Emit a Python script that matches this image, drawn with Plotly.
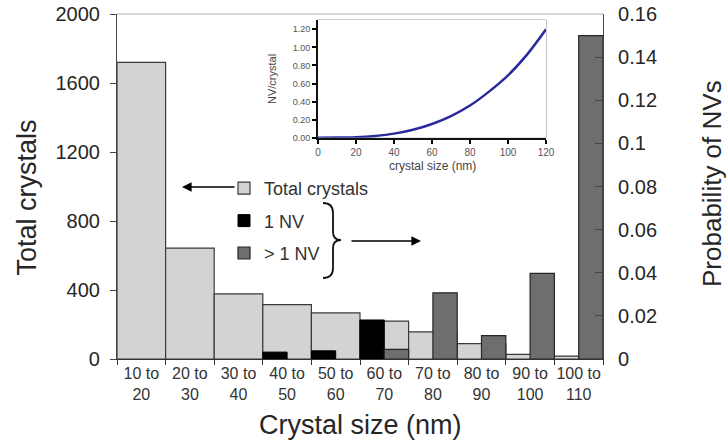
import plotly.graph_objects as go

# ---------------- data ----------------
categories = ["10 to 20", "20 to 30", "30 to 40", "40 to 50", "50 to 60",
              "60 to 70", "70 to 80", "80 to 90", "90 to 100", "100 to 110"]
tick_labels = ["10 to<br>20", "20 to<br>30", "30 to<br>40", "40 to<br>50", "50 to<br>60",
               "60 to<br>70", "70 to<br>80", "80 to<br>90", "90 to<br>100", "100 to<br>110"]
total_crystals = [1720, 643, 378, 315, 267, 220, 157, 89, 27, 17]
prob_one_nv = [None, None, None, 0.0032, 0.0038, 0.0181, None, None, None, None]
prob_multi_nv = [None, None, None, None, None, 0.0045, 0.0307, 0.0108, 0.0397, 0.150]

inset_size = [0, 10, 20, 30, 40, 50, 60, 70, 80, 90, 100, 110, 120]
inset_nv_per_crystal = [0.0, 0.001, 0.006, 0.02, 0.045, 0.088, 0.152, 0.24, 0.356, 0.51, 0.69, 0.92, 1.20]

left_ticks = [0, 400, 800, 1200, 1600, 2000]
right_ticks = [0, 0.02, 0.04, 0.06, 0.08, 0.1, 0.12, 0.14, 0.16]
right_tick_text = ["0", "0.02", "0.04", "0.06", "0.08", "0.1", "0.12", "0.14", "0.16"]
inset_x_ticks = [0, 20, 40, 60, 80, 100, 120]
inset_y_ticks = [0, 0.2, 0.4, 0.6, 0.8, 1.0, 1.2]

# ---------------- layout helpers (decorations only) ----------------
W, H = 726, 447
L, R, T, B = 117, 603, 14, 359


def px(x):
    return (x - L) / (R - L)


def py(y):
    return (B - y) / (B - T)


FONT = "Liberation Sans, Arial, sans-serif"
TXT = "#262626"

fig = go.Figure()

fig.add_trace(go.Bar(
    name="Total crystals", x=categories, y=total_crystals, width=1.0,
    marker=dict(color="#d3d3d3", line=dict(color="#3a3a3a", width=1.2)),
    xaxis="x", yaxis="y", legendgroup="a"))
fig.add_trace(go.Bar(
    name="1 NV", x=categories, y=prob_one_nv, width=0.5, offset=-0.5,
    marker=dict(color="#000000", line=dict(color="#000000", width=1)),
    xaxis="x", yaxis="y2", legendgroup="b"))
fig.add_trace(go.Bar(
    name="> 1 NV", x=categories, y=prob_multi_nv, width=0.5, offset=0.0,
    marker=dict(color="#6e6e6e", line=dict(color="#262626", width=1.2)),
    xaxis="x", yaxis="y2", legendgroup="c"))
fig.add_trace(go.Scatter(
    x=inset_size, y=inset_nv_per_crystal, mode="lines",
    line=dict(color="#2a2a9c", width=2.5, shape="spline"),
    xaxis="x2", yaxis="y3", showlegend=False))

fig.update_layout(
    width=W, height=H,
    margin=dict(l=L, r=W - R, t=T, b=H - B, autoexpand=False),
    paper_bgcolor="white", plot_bgcolor="white",
    barmode="overlay",
    font=dict(family=FONT, color=TXT),
    xaxis=dict(
        type="category", range=[-0.5, 9.5], automargin=False,
        tickmode="array", tickvals=categories, ticktext=tick_labels, tickangle=0,
        tickson="boundaries", ticks="outside", ticklen=5, tickcolor="#333",
        showline=True, linecolor="#333", linewidth=1.2,
        showgrid=False, zeroline=False,
        tickfont=dict(size=16, color="#333"),
    ),
    yaxis=dict(
        range=[0, 2000], tickmode="array", tickvals=left_ticks, automargin=False,
        ticks="outside", ticklen=6, tickcolor="#444", ticklabelstandoff=6,
        showline=True, linecolor="#444", linewidth=1.2,
        showgrid=False, zeroline=False,
        tickfont=dict(size=20, color=TXT),
    ),
    yaxis2=dict(
        overlaying="y", side="right", range=[0, 0.16], automargin=False,
        tickmode="array", tickvals=right_ticks, ticktext=right_tick_text,
        ticks="inside", ticklen=8, tickcolor="#444", ticklabelstandoff=10,
        showline=True, linecolor="#444", linewidth=1.2,
        showgrid=False, zeroline=False,
        tickfont=dict(size=20, color=TXT),
    ),
    xaxis2=dict(
        domain=[px(318), px(546)], anchor="y3", range=[0, 120], automargin=False,
        tickmode="array", tickvals=inset_x_ticks, tickangle=0,
        ticks="outside", ticklen=4, tickcolor="#000", tickwidth=1.5,
        showline=True, linecolor="#111", linewidth=2,
        showgrid=False, zeroline=False,
        tickfont=dict(size=10, color="#555"),
    ),
    yaxis3=dict(
        domain=[py(137.7), py(20)], anchor="x2", range=[0, 1.303], automargin=False,
        tickmode="array", tickvals=inset_y_ticks, tickformat=".2f",
        ticks="outside", ticklen=4, tickcolor="#000", tickwidth=1.5,
        showline=True, linecolor="#111", linewidth=2,
        showgrid=False, zeroline=False,
        tickfont=dict(size=9, color="#555"),
    ),
    legend=dict(
        x=px(224), y=py(170), xanchor="left", yanchor="top",
        bgcolor="rgba(0,0,0,0)", font=dict(size=18, color="#333"),
        traceorder="grouped", tracegroupgap=6, itemwidth=30,
    ),
    showlegend=True,
)

annotations = [
    dict(text="Total crystals", x=px(26), y=py(197.5), textangle=-90,
         font=dict(size=27, color=TXT)),
    dict(text="Probability of NVs", x=px(712), y=py(184), textangle=-90,
         font=dict(size=26, color=TXT)),
    dict(text="Crystal size (nm)", x=px(360), y=py(425),
         font=dict(size=27, color=TXT)),
    dict(text="NV/crystal", x=px(272), y=py(79), textangle=-90,
         font=dict(size=11, color="#444")),
    dict(text="crystal size (nm)", x=px(432), y=py(166),
         font=dict(size=12, color="#444")),
]
for a in annotations:
    a.update(xref="paper", yref="paper", showarrow=False, xanchor="center", yanchor="middle")

# arrows
annotations.append(dict(text="", x=px(182), y=py(187), ax=54, ay=0, xref="paper", yref="paper",
                        showarrow=True, arrowhead=2, arrowsize=1.2, arrowwidth=1.6, arrowcolor="#000"))
annotations.append(dict(text="", x=px(421), y=py(241), ax=-71, ay=0, xref="paper", yref="paper",
                        showarrow=True, arrowhead=2, arrowsize=1.2, arrowwidth=1.6, arrowcolor="#000"))
fig.update_layout(annotations=annotations)

# brace
bp = [(323, 203), (333, 203), (333, 213), (333, 232), (333, 240), (341, 240),
      (333, 240), (333, 248), (333, 268), (333, 278), (323, 278)]
c = [(px(x), py(y)) for x, y in bp]
path = (f"M{c[0][0]},{c[0][1]} Q{c[1][0]},{c[1][1]} {c[2][0]},{c[2][1]} "
        f"L{c[3][0]},{c[3][1]} Q{c[4][0]},{c[4][1]} {c[5][0]},{c[5][1]} "
        f"Q{c[6][0]},{c[6][1]} {c[7][0]},{c[7][1]} L{c[8][0]},{c[8][1]} "
        f"Q{c[9][0]},{c[9][1]} {c[10][0]},{c[10][1]}")
fig.add_shape(type="path", path=path, xref="paper", yref="paper",
              line=dict(color="#111", width=1.8))

# plot-area top border and inset frame
fig.add_shape(type="line", x0=0, x1=1, y0=1, y1=1, xref="paper", yref="paper",
              line=dict(color="#b0b0b0", width=1.2), layer="below")
fig.add_shape(type="rect", x0=0, x1=1, y0=0, y1=1, xref="x2 domain", yref="y3 domain",
              line=dict(color="#a0a0a0", width=1.2), fillcolor="white", layer="below")

fig.write_html("out.html", config={"displayModeBar": False},
               post_script="document.body.style.margin='0px';document.body.style.overflow='hidden';")
